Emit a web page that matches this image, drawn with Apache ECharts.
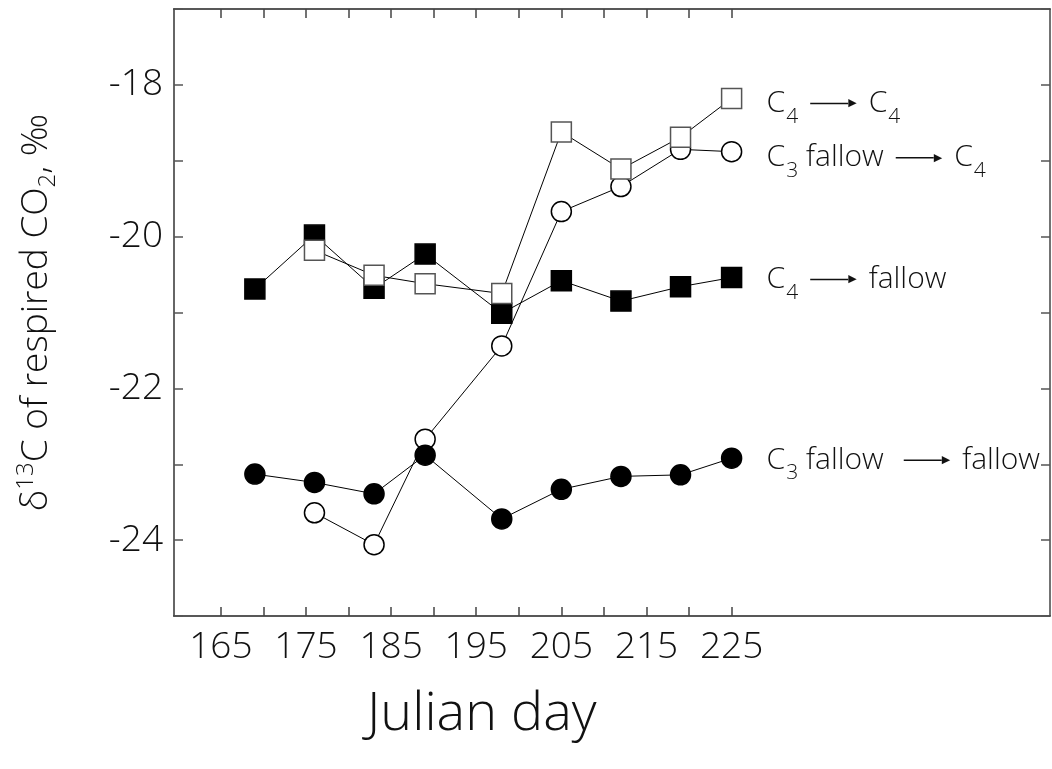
<!DOCTYPE html>
<html>
<head>
<meta charset="utf-8">
<script src="https://cdn.jsdelivr.net/npm/echarts@6/dist/echarts.min.js"></script>
<style>
  html, body { margin: 0; padding: 0; background: #fff; }
  #chart { width: 1052px; height: 769px; }
</style>
</head>
<body>
<div id="chart"></div>
<script>
// Julian days of sampling and d13C values
const days = [169, 176, 183, 189, 198, 205, 212, 219, 225]
const c4ToC4 = [null, -20.18, -20.51, -20.62, -20.75, -18.62, -19.11, -18.69, -18.18]
const c3ToC4 = [null, -23.64, -24.06, -22.67, -21.44, -19.67, -19.34, -18.85, -18.88]
const c4ToFallow = [-20.69, -19.98, -20.68, -20.23, -21.01, -20.58, -20.85, -20.66, -20.54]
const c3ToFallow = [-23.13, -23.24, -23.39, -22.88, -23.72, -23.33, -23.16, -23.14, -22.92]

const xTicks = [165, 170, 175, 180, 185, 190, 195, 200, 205, 210, 215, 220, 225]
const xLabels = [165, 175, 185, 195, 205, 215, 225]
const yLabels = [-24, -22, -20, -18]

const FONT = 'Open Sans'
const INK = '#111'

const pairs = (vals) => days.map((d, i) => [d, vals[i]]).filter((p) => p[1] !== null)

const labelRich = {
  t: { fontSize: 30, fontFamily: FONT, fontWeight: 300, color: INK },
  s: { fontSize: 21, fontFamily: FONT, fontWeight: 300, color: INK, padding: [26, 0, 0, 1] },
  g: { width: 12 },
  g2: { width: 20 },
  bar: { width: 38, height: 1.5, backgroundColor: INK },
  hd: { fontSize: 11, fontFamily: 'DejaVu Sans', color: INK },
}

const makeSeries = (name, vals, symbol, fill, border, label, offsetY) => ({
  name,
  type: 'line',
  data: pairs(vals),
  symbol,
  symbolSize: 20,
  lineStyle: { color: '#000', width: 1 },
  itemStyle: { color: fill, borderColor: border, borderWidth: 1.5 },
  emphasis: { disabled: true },
  endLabel: {
    show: true,
    formatter: label,
    distance: 35,
    offset: [0, offsetY],
    rich: labelRich,
  },
})

const chart = echarts.init(document.getElementById('chart'))

const option = {
  animation: false,
  title: {
    text: 'Julian day',
    left: 362,
    top: 683,
    textStyle: { fontSize: 54, fontFamily: FONT, fontWeight: 300, color: INK },
  },
  grid: {
    left: 174,
    right: 2,
    top: 9,
    bottom: 153,
  },
  xAxis: [
    {
      type: 'value',
      position: 'bottom',
      min: 159.5,
      max: 262.4,
      splitLine: { show: false },
      axisLine: { lineStyle: { color: '#222', width: 1.5 } },
      axisTick: { inside: true, length: 9, customValues: xTicks, lineStyle: { color: '#444', width: 1.5 } },
      axisLabel: {
        customValues: xLabels,
        fontSize: 37,
        fontFamily: FONT,
        fontWeight: 300,
        color: INK,
        margin: 13,
      },
    },
    {
      type: 'value',
      position: 'top',
      min: 159.5,
      max: 262.4,
      splitLine: { show: false },
      axisLine: { lineStyle: { color: '#222', width: 1.5 } },
      axisTick: { inside: true, length: 9, customValues: xTicks, lineStyle: { color: '#444', width: 1.5 } },
      axisLabel: { show: false },
    },
  ],
  yAxis: [
    {
      type: 'value',
      position: 'left',
      min: -25,
      max: -17,
      interval: 1,
      splitLine: { show: false },
      axisLine: { show: true, lineStyle: { color: '#666', width: 2 } },
      axisTick: { inside: true, length: 9, lineStyle: { color: '#555', width: 1.5 } },
      axisLabel: {
        customValues: yLabels,
        fontSize: 37,
        fontFamily: FONT,
        fontWeight: 300,
        color: INK,
        margin: 11,
      },
      name: 'δ{sup|13}C of respired CO{sub|2}, ‰',
      nameLocation: 'middle',
      nameRotate: 90,
      nameGap: 114,
      nameTextStyle: {
        fontSize: 37,
        fontFamily: FONT,
        fontWeight: 300,
        color: INK,
        rich: {
          sup: { fontSize: 24, fontFamily: FONT, fontWeight: 300, color: INK, padding: [0, 0, 20, 0] },
          sub: { fontSize: 24, fontFamily: FONT, fontWeight: 300, color: INK, padding: [24, 0, 0, 0] },
        },
      },
    },
    {
      type: 'value',
      position: 'right',
      min: -25,
      max: -17,
      interval: 1,
      splitLine: { show: false },
      axisLine: { show: true, lineStyle: { color: '#444', width: 1.5 } },
      axisTick: { inside: true, length: 9, lineStyle: { color: '#555', width: 1.5 } },
      axisLabel: { show: false },
    },
  ],
  series: [
    makeSeries('C3 fallow to C4', c3ToC4, 'circle', '#fff', '#000',
      '{t|C}{s|3}{t| fallow}{g|}{bar| }{hd|▶}{g|}{t|C}{s|4}', 6),
    makeSeries('C3 fallow to fallow', c3ToFallow, 'circle', '#000', '#000',
      '{t|C}{s|3}{t| fallow}{g2|}{bar| }{hd|▶}{g|}{t|fallow}', 2),
    makeSeries('C4 to fallow', c4ToFallow, 'rect', '#000', '#000',
      '{t|C}{s|4}{g|}{bar| }{hd|▶}{g|}{t|fallow}', 2),
    makeSeries('C4 to C4', c4ToC4, 'rect', '#fff', '#555',
      '{t|C}{s|4}{g|}{bar| }{hd|▶}{g|}{t|C}{s|4}', 5),
  ],
}

chart.setOption(option)

window.addEventListener('resize', () => chart.resize())
</script>
</body>
</html>
